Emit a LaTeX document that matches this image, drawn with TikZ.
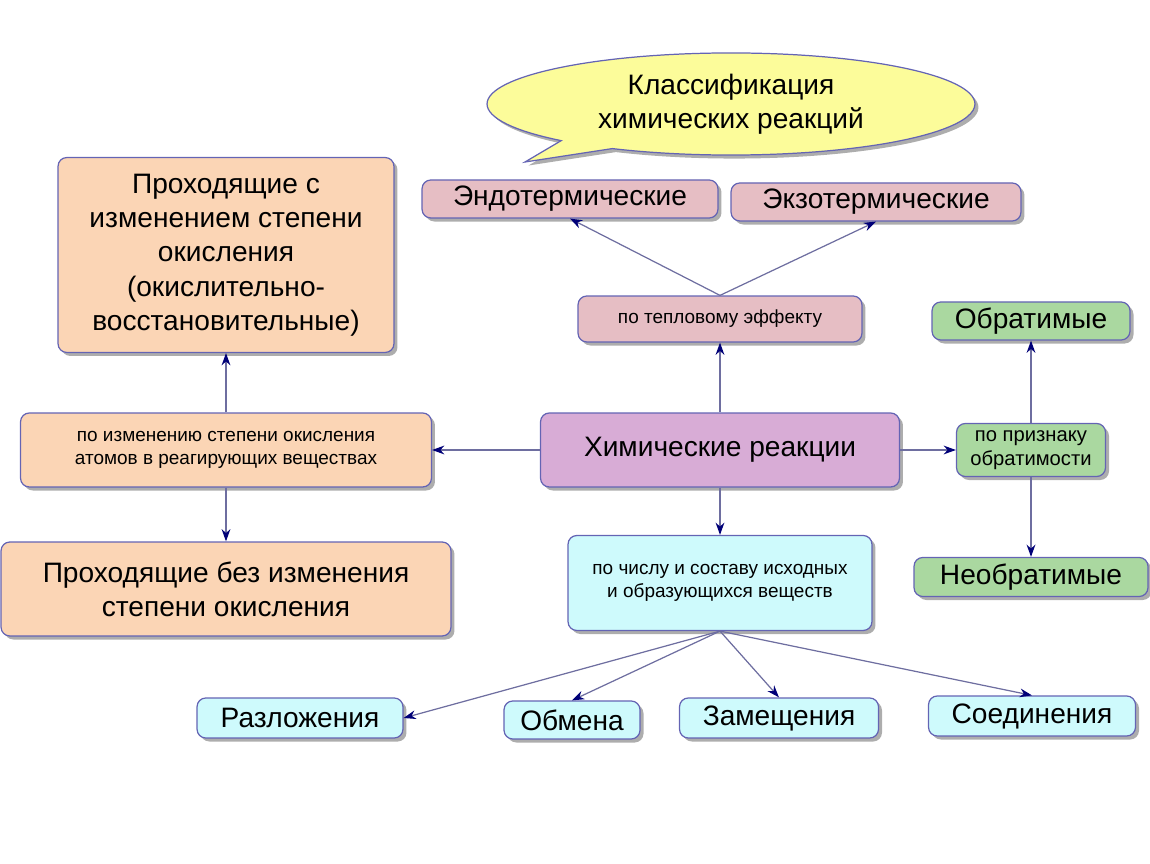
\documentclass[tikz,border=0pt]{standalone}
\usepackage{fontspec}
\setmainfont{Liberation Sans}
\usetikzlibrary{arrows.meta,shapes.callouts,shadows}

\definecolor{bordclr}{RGB}{100,100,180}
\definecolor{lineclr}{RGB}{110,110,160}
\definecolor{tipclr}{RGB}{0,0,120}
\definecolor{pinkfill}{RGB}{230,190,196}
\definecolor{peachfill}{RGB}{251,213,181}
\definecolor{lilacfill}{RGB}{216,172,214}
\definecolor{greenfill}{RGB}{170,216,160}
\definecolor{cyanfill}{RGB}{206,250,252}
\definecolor{yellowfill}{RGB}{252,252,154}

\tikzset{
  box/.style={draw=bordclr, line width=0.7pt, rounded corners=5pt, align=center,
    inner sep=1pt, drop shadow={shadow xshift=2pt, shadow yshift=-2pt, fill=black!40, opacity=0.8}},
  bigtext/.style={font=\fontsize{16}{19.5}\selectfont},
  smalltext/.style={font=\fontsize{10.8}{13}\selectfont},
  arr/.style={draw=lineclr, line width=0.7pt, -{Stealth[length=7pt,width=5pt,color=tipclr]}}
}

\begin{document}
\begin{tikzpicture}[x=0.02cm, y=-0.02cm]
\useasboundingbox (0,0) rectangle (1150,864);

% title bubble
\node(title) at (731,104) [ellipse callout, draw=bordclr, line width=0.7pt, fill=yellowfill,
  minimum width=9.76cm, minimum height=1.9cm, callout absolute pointer={(525,162)},
  drop shadow={shadow xshift=2pt, shadow yshift=-2pt, fill=black!40, opacity=0.8},
  align=center, bigtext] {Классификация\\химических реакций};

% heat effect
\node(endo) at (570,199) [box, bigtext, fill=pinkfill, minimum width=5.92cm, minimum height=0.76cm] {Эндотермические};
\node(exo) at (876,202) [box, bigtext, fill=pinkfill, minimum width=5.8cm, minimum height=0.76cm] {Экзотермические};
\node(heat) at (720,319) [box, smalltext, fill=pinkfill, minimum width=5.68cm, minimum height=0.92cm] {по тепловому эффекту};

% oxidation state
\node(redox) at (226,255) [box, bigtext, fill=peachfill, minimum width=6.72cm, minimum height=3.9cm] {Проходящие с\\изменением степени\\окисления\\(окислительно-\\восстановительные)};
\node(byox) at (226,450) [box, smalltext, fill=peachfill, minimum width=8.22cm, minimum height=1.48cm] {по изменению степени окисления\\атомов в реагирующих веществах};
\node(nonredox) at (226,589) [box, bigtext, fill=peachfill, minimum width=9cm, minimum height=1.88cm] {Проходящие без изменения\\степени окисления};

% centre
\node(main) at (720,450) [box, bigtext, fill=lilacfill, minimum width=7.18cm, minimum height=1.48cm] {Химические реакции};

% reversibility
\node(rev) at (1031,321) [box, bigtext, fill=greenfill, minimum width=3.96cm, minimum height=0.76cm] {Обратимые};
\node(bysign) at (1031,450) [box, font=\fontsize{11.5}{14}\selectfont, fill=greenfill, minimum width=2.98cm, minimum height=1.06cm] {по признаку\\обратимости};
\node(irrev) at (1031,577) [box, bigtext, fill=greenfill, minimum width=4.68cm, minimum height=0.78cm] {Необратимые};

% number and composition
\node(bynum) at (720,583) [box, smalltext, fill=cyanfill, minimum width=6.08cm, minimum height=1.9cm] {по числу и составу исходных\\и образующихся веществ};
\node(decomp) at (300,718) [box, bigtext, fill=cyanfill, minimum width=4.12cm, minimum height=0.8cm] {Разложения};
\node(exch) at (572,720) [box, bigtext, fill=cyanfill, minimum width=2.72cm, minimum height=0.76cm] {Обмена};
\node(subst) at (779,718) [box, bigtext, fill=cyanfill, minimum width=3.98cm, minimum height=0.8cm] {Замещения};
\node(comb) at (1032,716) [box, bigtext, fill=cyanfill, minimum width=4.14cm, minimum height=0.8cm] {Соединения};

\draw[arr] (heat.north) -- (endo.south);
\draw[arr] (heat.north) -- (exo.south);
\draw[arr] (main.north) -- (heat.south);
\draw[arr] (main.west) -- (byox.east);
\draw[arr] (main.east) -- (bysign.west);
\draw[arr] (main.south) -- (bynum.north);
\draw[arr] (byox.north) -- (redox.south);
\draw[arr] (byox.south) -- (nonredox.north);
\draw[arr] (bysign.north) -- (rev.south);
\draw[arr] (bysign.south) -- (irrev.north);
\draw[arr] (bynum.south) -- (decomp.east);
\draw[arr] (bynum.south) -- (exch.north);
\draw[arr] (bynum.south) -- (subst.north);
\draw[arr] (bynum.south) -- (comb.north);

\end{tikzpicture}
\end{document}
